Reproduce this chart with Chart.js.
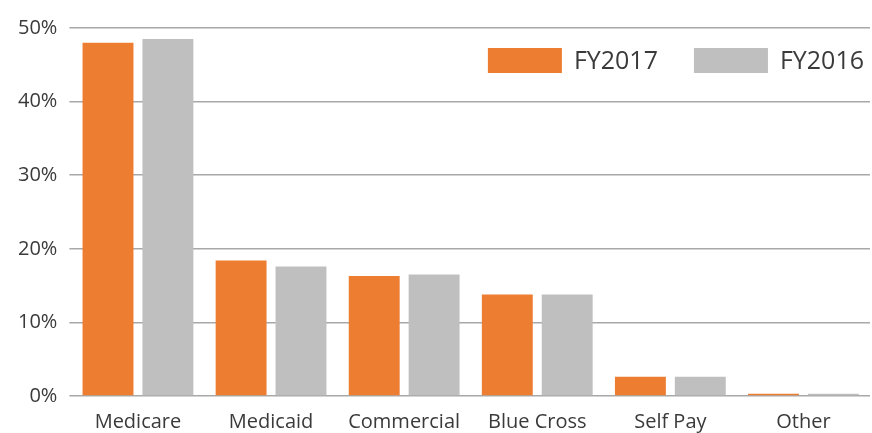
<!DOCTYPE html>
<html>
<head>
<meta charset="utf-8">
<script src="https://cdn.jsdelivr.net/npm/chart.js@4"></script>
<style>
html,body{margin:0;padding:0;background:#fff;overflow:hidden;}
#wrap{width:872px;height:433px;position:relative;overflow:hidden;}
#inner{width:872px;height:440px;position:absolute;left:0;top:0;}
</style>
</head>
<body>
<div id="wrap"><div id="inner"><canvas id="c"></canvas></div></div>
<script>
const categories = ["Medicare", "Medicaid", "Commercial", "Blue Cross", "Self Pay", "Other"];
const fy2017 = [48.0, 18.4, 16.3, 13.8, 2.6, 0.3];
const fy2016 = [48.5, 17.6, 16.5, 13.8, 2.6, 0.3];
const yTicks = [0, 10, 20, 30, 40, 50];

const textColor = "#3a3a3a";
const FONT = "'Open Sans', sans-serif";

// Legend drawn inside the top-right of the chart area, from the dataset labels/colours
const insideLegend = {
  id: "insideLegend",
  afterDraw(chart) {
    const ctx = chart.ctx, area = chart.chartArea;
    const boxW = 74, boxH = 25, gap = 12, itemGap = 36, fs = 25;
    ctx.save();
    ctx.font = fs + "px " + FONT;
    ctx.textBaseline = "middle";
    const items = chart.data.datasets.map(d => ({ text: d.label, color: d.backgroundColor, w: boxW + gap + ctx.measureText(d.label).width }));
    let total = items.reduce((s, it) => s + it.w, 0) + itemGap * (items.length - 1);
    let x = area.right - 6 - total;
    const y = area.top + 20;
    items.forEach(it => {
      ctx.fillStyle = it.color;
      ctx.fillRect(x, y, boxW, boxH);
      ctx.fillStyle = textColor;
      ctx.fillText(it.text, x + boxW + gap, y + boxH / 2 + 1);
      x += it.w + itemGap;
    });
    ctx.restore();
  }
};

new Chart(document.getElementById("c"), {
  type: "bar",
  data: {
    labels: categories,
    datasets: [
      { label: "FY2017", data: fy2017, backgroundColor: "#ED7D31" },
      { label: "FY2016", data: fy2016, backgroundColor: "#BFBFBF" }
    ]
  },
  plugins: [insideLegend],
  options: {
    responsive: true,
    maintainAspectRatio: false,
    animation: false,
    layout: { padding: { top: 28, right: 2, left: 6, bottom: -8 } },
    datasets: { bar: { categoryPercentage: 0.9, barPercentage: 0.85 } },
    plugins: {
      legend: { display: false },
      tooltip: { enabled: false }
    },
    scales: {
      x: {
        grid: { display: false, drawTicks: false },
        border: { display: false },
        ticks: { color: textColor, font: { family: FONT, size: 20 }, padding: 14 }
      },
      y: {
        min: 0, max: 50,
        afterBuildTicks: (axis) => { axis.ticks = yTicks.map(v => ({ value: v })); },
        grid: { color: "#a8a8a8", lineWidth: 1.5, tickLength: 2 },
        border: { display: false },
        ticks: {
          color: textColor, padding: 12,
          font: { family: FONT, size: 20 },
          callback: (v) => v + "%"
        }
      }
    }
  }
});
</script>
</body>
</html>
